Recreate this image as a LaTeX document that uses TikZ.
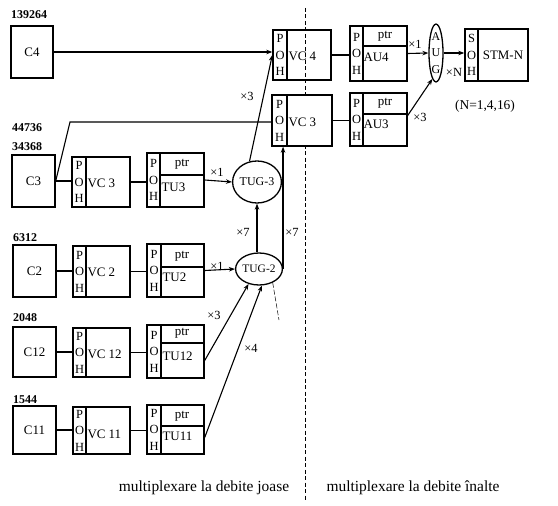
\documentclass[tikz,border=0pt]{standalone}
\usepackage{fontspec}
\setmainfont{Liberation Serif}
\usetikzlibrary{arrows.meta,shapes.geometric,calc}
\newcommand\mkbox[7][]{%
  \pgfmathsetmacro\mkw{#5-#3}\pgfmathsetmacro\mkh{#6-#4}%
  \pgfmathsetmacro\mkx{(#3+#5)/2}\pgfmathsetmacro\mky{(#4+#6)/2}%
  \node[box,minimum width=\mkw bp,minimum height=\mkh bp,#1] (#2) at (\mkx,\mky) {#7};}
\begin{document}
\begin{tikzpicture}[x=1bp,y=-1bp,
  box/.style={draw,line width=1.4bp,inner sep=0pt,font=\fontsize{13}{15}\selectfont},
  pohbox/.style={align=center,font=\fontsize{12.5}{16.5}\selectfont},
  txt/.style={inner sep=0pt,font=\fontsize{13}{15}\selectfont},
  vctxt/.style={txt,anchor=west},
  numlbl/.style={inner sep=0pt,anchor=west,font=\bfseries\fontsize{12}{13}\selectfont},
  divider/.style={line width=1.1bp},
  conn/.style={line width=1.1bp},
  arr/.style={conn,-{Stealth[length=6bp,width=4.5bp]}},
  mult/.style={inner sep=0pt,font=\fontsize{12.5}{14}\selectfont},
  ell/.style={draw,ellipse,line width=1.3bp,inner sep=0pt},
  foot/.style={inner sep=0pt,font=\fontsize{15.5}{17}\selectfont}
]
\useasboundingbox (0,0) rectangle (558,506);

% dashed separator
\coordinate (dtop) at (305,8);
\coordinate (dbot) at (305,500);
\draw[line width=0.8bp,dash pattern=on 4bp off 2.5bp] (dtop) -- (dbot);

% number labels
\node[numlbl] (n1) at (11,15) {139264};
\node[numlbl] (n2) at (12,128) {44736};
\node[numlbl] (n3) at (12,147) {34368};
\node[numlbl] (n4) at (13,238) {6312};
\node[numlbl] (n5) at (13,318) {2048};
\node[numlbl] (n6) at (13,400) {1544};

% ---- C4 row
\mkbox{C4}{11}{26}{53}{78}{C4}
\mkbox[pohbox]{VC4p}{273}{30}{287}{80}{P\\O\\H}
\mkbox{VC4m}{287}{30}{331}{80}{}
\node[vctxt] (VC4t) at ($(VC4m.west)+(2,1)$) {VC 4};
\mkbox[pohbox]{AU4p}{350}{26}{363}{81}{P\\O\\H}
\mkbox{AU4m}{363}{26}{407}{81}{}
\draw[divider] (AU4m.west |- 0,46) -- (AU4m.east |- 0,46);
\node[txt] (AU4ptr) at (385,36) {ptr};
\node[vctxt] (AU4t) at ($(AU4m.west)+(1,4)$) {AU4};
\node[ell,minimum width=14bp,minimum height=55bp,align=center,font=\fontsize{12}{16.5}\selectfont] (AUG) at (436,53) {A\\U\\G};
\mkbox[pohbox]{SOH}{465}{29}{478}{81}{S\\O\\H}
\mkbox{STM}{478}{29}{528}{81}{STM-N}
\node[txt,font=\fontsize{13.5}{15}\selectfont] (Nnote) at (485,106) {(N=1,4,16)};

% ---- VC3 upper row
\mkbox[pohbox,fill=white]{VC3up}{272}{95}{287}{146}{P\\O\\H}
\mkbox[fill=white]{VC3um}{287}{95}{332}{146}{}
\node[vctxt] (VC3ut) at ($(VC3um.west)+(2,2)$) {VC 3};
\mkbox[pohbox]{AU3p}{350}{93}{363}{146}{P\\O\\H}
\mkbox{AU3m}{363}{93}{407}{146}{}
\draw[divider] (AU3m.west |- 0,114) -- (AU3m.east |- 0,114);
\node[txt] (AU3ptr) at (385,103) {ptr};
\node[vctxt] (AU3t) at ($(AU3m.west)+(1,5)$) {AU3};

% ---- C3 row
\mkbox{C3}{12}{155}{55}{207}{C3}
\mkbox[pohbox]{VC3lp}{72}{157}{86}{207}{P\\O\\H}
\mkbox{VC3lm}{86}{157}{130}{207}{}
\node[vctxt] (VC3lt) at ($(VC3lm.west)+(2,1)$) {VC 3};
\mkbox[pohbox]{TU3p}{147}{153}{160}{207}{P\\O\\H}
\mkbox{TU3m}{160}{153}{204}{207}{}
\draw[divider] (TU3m.west |- 0,175) -- (TU3m.east |- 0,175);
\node[txt] (TU3ptr) at (182,164) {ptr};
\node[vctxt] (TU3t) at ($(TU3m.west)+(2,7)$) {TU3};
\node[ell,minimum width=46bp,minimum height=42bp,font=\fontsize{12}{13}\selectfont] (TUG3) at (257,182) {TUG-3};

% ---- C2 row
\mkbox{C2}{13}{245}{56}{297}{C2}
\mkbox[pohbox]{VC2p}{73}{246}{86}{297}{P\\O\\H}
\mkbox{VC2m}{86}{246}{130}{297}{}
\node[vctxt] (VC2t) at ($(VC2m.west)+(2,1)$) {VC 2};
\mkbox[pohbox]{TU2p}{147}{244}{161}{297}{P\\O\\H}
\mkbox{TU2m}{161}{244}{204}{297}{}
\draw[divider] (TU2m.west |- 0,267) -- (TU2m.east |- 0,267);
\node[txt] (TU2ptr) at (182,256) {ptr};
\node[vctxt] (TU2t) at ($(TU2m.west)+(2,7)$) {TU2};
\node[ell,minimum width=44bp,minimum height=32bp,font=\fontsize{11.5}{13}\selectfont] (TUG2) at (259,269) {TUG-2};

% ---- C12 row
\mkbox{C12}{13}{327}{56}{377}{C12}
\mkbox[pohbox]{VC12p}{73}{328}{86}{377}{P\\O\\H}
\mkbox{VC12m}{86}{328}{130}{377}{}
\node[vctxt] (VC12t) at ($(VC12m.west)+(2,2)$) {VC 12};
\mkbox[pohbox]{TU12p}{147}{325}{161}{378}{P\\O\\H}
\mkbox{TU12m}{161}{325}{204}{378}{}
\draw[divider] (TU12m.west |- 0,343) -- (TU12m.east |- 0,343);
\node[txt] (TU12ptr) at (182,333) {ptr};
\node[vctxt] (TU12t) at ($(TU12m.west)+(2,5)$) {TU12};

% ---- C11 row
\mkbox{C11}{13}{406}{56}{454}{C11}
\mkbox[pohbox]{VC11p}{73}{407}{86}{454}{P\\O\\H}
\mkbox{VC11m}{86}{407}{130}{454}{}
\node[vctxt] (VC11t) at ($(VC11m.west)+(2,4)$) {VC 11};
\mkbox[pohbox]{TU11p}{147}{405}{161}{454}{P\\O\\H}
\mkbox{TU11m}{161}{405}{204}{454}{}
\draw[divider] (TU11m.west |- 0,426) -- (TU11m.east |- 0,426);
\node[txt] (TU11ptr) at (182,416) {ptr};
\node[vctxt] (TU11t) at ($(TU11m.west)+(2,7)$) {TU11};

% ---- connectors
\draw[arr] (C4.east) -- (C4.east -| VC4p.west);
\draw[conn] (VC4m.east) -- (VC4m.east -| AU4p.west);
\draw[arr] (AU4m.east) -- (AUG.west);
\node[mult] (m1) at (415,44) {×1};
\draw[arr] (AUG.east) -- (AUG.east -| SOH.west);
\node[mult] (mN) at (454,72) {×N};
\draw[arr] ($(AU3m.east)+(0,-4)$) -- (AUG.262);
\node[mult] (m2) at (420,117) {×3};
\draw[conn] (VC3um.east) -- (VC3um.east -| AU3p.west);

\coordinate (c3k) at (70,122);
\draw[conn] (C3.east) -- (c3k) -- (c3k -| VC3up.west);
\draw[conn] (C3.east) -- (C3.east -| VC3lp.west);
\draw[conn] (VC3lm.east) -- (VC3lm.east -| TU3p.west);
\draw[arr] (TU3m.east) -- (TUG3.west);
\node[mult] (m3) at (217,172) {×1};
\draw[arr] (TUG3.110) -- (VC4p.west);
\node[mult] (m4) at (247,96) {×3};

\draw[arr] (TUG3.south |- TUG2.north) -- (TUG3.south);
\node[mult] (m5) at (243,232) {×7};
\draw[arr,line width=1.6bp] (TUG2.east) -- (TUG2.east |- VC3up.south);
\node[mult] (m6) at (292,232) {×7};

\draw[conn] (C2.east) -- (C2.east -| VC2p.west);
\draw[conn] (VC2m.east) -- (VC2m.east -| TU2p.west);
\draw[arr] (TU2m.east) -- (TUG2.west);
\node[mult] (m7) at (217,266) {×1};

\draw[conn] (C12.east) -- (C12.east -| VC12p.west);
\draw[conn] (VC12m.east) -- (VC12m.east -| TU12p.west);
\draw[arr] ($(TU12m.east)+(0,9)$) -- (TUG2.235);
\node[mult] (m8) at (214,315) {×3};

\draw[conn] (C11.east) -- (C11.east -| VC11p.west);
\draw[conn] (VC11m.east) -- (VC11m.east -| TU11p.west);
\draw[arr] ($(TU11m.east)+(0,8)$) -- (TUG2.280);
\node[mult] (m9) at (251,348) {×4};

\coordinate (dd) at (279,320);
\draw[line width=0.5bp,dash pattern=on 5bp off 2bp] (TUG2.315) -- (dd);

% footer
\node[foot] (f1) at (204,488) {multiplexare la debite joase};
\node[foot] (f2) at (413,488) {multiplexare la debite înalte};
\end{tikzpicture}
\end{document}
